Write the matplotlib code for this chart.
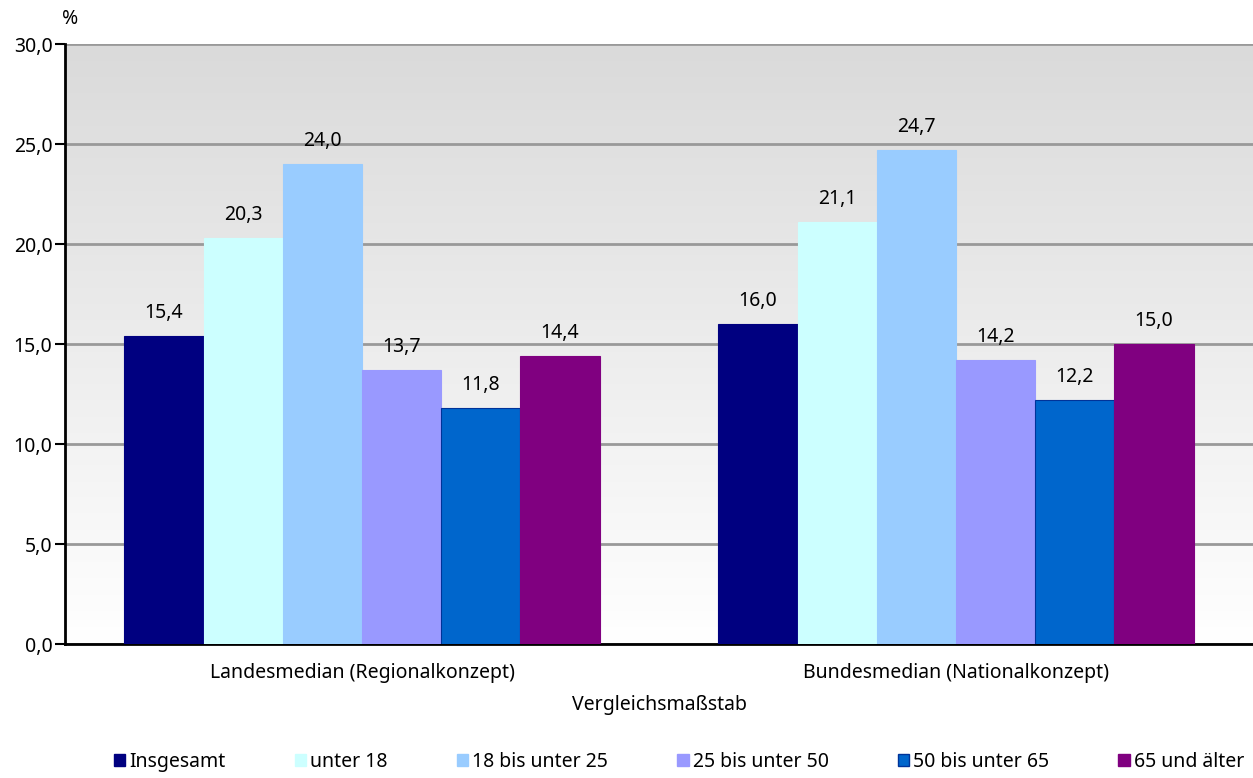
import numpy as np
import matplotlib.pyplot as plt
from matplotlib.patches import Patch
from matplotlib.colors import LinearSegmentedColormap

plt.rcParams['font.family'] = ['Noto Sans', 'DejaVu Sans']

# data
groups = ['Landesmedian (Regionalkonzept)', 'Bundesmedian (Nationalkonzept)']
series = ['Insgesamt', 'unter 18', '18 bis unter 25', '25 bis unter 50', '50 bis unter 65', '65 und älter']
values = [
    [15.4, 16.0],
    [20.3, 21.1],
    [24.0, 24.7],
    [13.7, 14.2],
    [11.8, 12.2],
    [14.4, 15.0],
]
colors = ['#000080', '#ccffff', '#99ccff', '#9999ff', '#0066cc', '#800080']
edges = ['#000080', '#ccffff', '#99ccff', '#9999ff', '#003399', '#800080']
yticks = [0, 5, 10, 15, 20, 25, 30]

fig = plt.figure(figsize=(12.53, 7.78), dpi=100)
ax = fig.add_axes([0.0519, 0.1722, 0.9481, 0.7712])

x = np.arange(len(groups))
w = 0.8 / len(series)

# gradient background
grad = np.linspace(0, 1, 256).reshape(-1, 1)
bg = LinearSegmentedColormap.from_list('bg', ['#ffffff', '#dadada'])
ax.imshow(grad, extent=[-0.5, 1.5, 0, 30], aspect='auto', cmap=bg, origin='lower', zorder=0)

for i, s in enumerate(series):
    pos = x - 0.4 + w * (i + 0.5)
    ax.bar(pos, values[i], width=w, color=colors[i], edgecolor=edges[i], linewidth=0.8, zorder=3, label=s)
    for p, v in zip(pos, values[i]):
        ax.text(p, v + 0.65, f'{v:.1f}'.replace('.', ','), ha='center', va='bottom', fontsize=14, zorder=4)

ax.set_xlim(-0.5, 1.5)
ax.set_ylim(0, 30)
ax.set_yticks(yticks)
ax.set_yticklabels([f'{t:.1f}'.replace('.', ',') for t in yticks], fontsize=14)
ax.yaxis.grid(True, color='#999999', linewidth=2)
for gl in ax.get_ygridlines():
    gl.set_zorder(1)
ax.set_xticks(x)
ax.set_xticklabels(groups, fontsize=14)
ax.tick_params(axis='x', length=0, pad=14)
ax.tick_params(axis='y', length=7, width=1.5, pad=2)
ax.spines['top'].set_visible(False)
ax.spines['right'].set_visible(False)
ax.spines['left'].set_linewidth(2)
ax.spines['bottom'].set_linewidth(2)
ax.set_xlabel('Vergleichsmaßstab', fontsize=14, labelpad=8)
fig.text(0.056, 0.975, '%', fontsize=14, ha='center', va='center')

handles = [Patch(facecolor=c, edgecolor=e) for c, e in zip(colors, edges)]
fig.legend(handles, series, loc='center', bbox_to_anchor=(0.542, 0.021), ncol=6, frameon=False,
           fontsize=14, handlelength=0.6, handleheight=0.6, handletextpad=0.2, columnspacing=3.55)

fig.savefig('out.png', dpi=100)
